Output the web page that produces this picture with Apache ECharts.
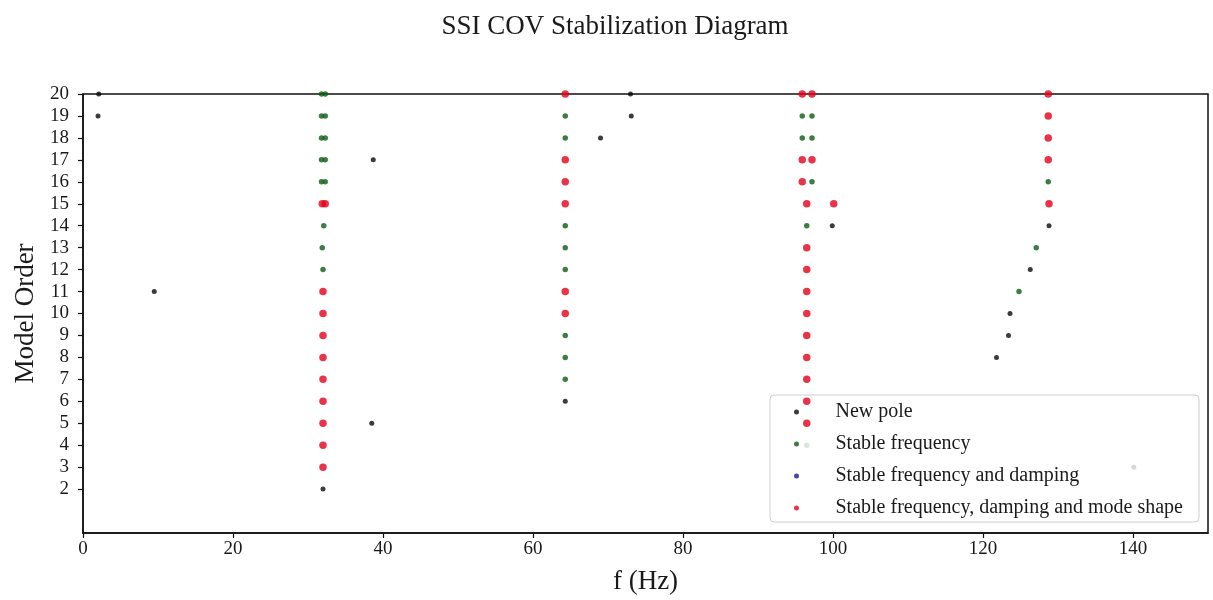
<!DOCTYPE html>
<html>
<head>
<meta charset="utf-8">
<script src="https://cdn.jsdelivr.net/npm/echarts@6/dist/echarts.min.js"></script>
<style>
  html, body { margin: 0; padding: 0; background: #ffffff; }
  #chart { width: 1213px; height: 600px; }
</style>
</head>
<body>
<div id="chart"></div>
<script>
// Stabilization diagram: poles as [frequency (Hz), model order]
const chartTitle = 'SSI COV Stabilization Diagram';
const seriesNames = [
  'New pole',
  'Stable frequency',
  'Stable frequency and damping',
  'Stable frequency, damping and mode shape'
];
const xTicks = [0, 20, 40, 60, 80, 100, 120, 140];
const yTicks = [2, 3, 4, 5, 6, 7, 8, 9, 10, 11, 12, 13, 14, 15, 16, 17, 18, 19, 20];

const newPole = [
  [2.1, 20], [2.0, 19], [9.5, 11], [32.0, 2], [38.7, 17], [38.5, 5],
  [64.3, 6], [69.0, 18], [73.1, 19], [73.0, 20], [99.9, 14],
  [128.8, 14], [126.3, 12], [123.6, 10], [123.4, 9], [121.8, 8], [140.1, 3]
];
const stableFrequency = [
  [31.8, 20], [32.3, 20], [31.8, 19], [32.3, 19], [31.8, 18], [32.3, 18],
  [31.8, 17], [32.3, 17], [31.8, 16], [32.3, 16], [32.1, 14], [31.9, 13], [32.0, 12],
  [64.3, 19], [64.3, 18], [64.3, 14], [64.3, 13], [64.3, 12], [64.3, 9], [64.3, 8], [64.3, 7],
  [95.9, 19], [97.2, 19], [95.9, 18], [97.2, 18], [97.2, 16], [96.5, 14], [96.5, 4],
  [128.7, 16], [127.1, 13], [124.8, 11]
];
const stableFreqDamping = [];
const stableAll = [
  [31.9, 15], [32.3, 15], [32.0, 11], [32.0, 10], [32.0, 9], [32.0, 8], [32.0, 7],
  [32.0, 6], [32.0, 5], [32.0, 4], [32.0, 3],
  [64.3, 20], [64.3, 17], [64.3, 16], [64.3, 15], [64.3, 11], [64.3, 10],
  [95.9, 20], [97.2, 20], [95.9, 17], [97.2, 17], [95.9, 16], [96.5, 15], [100.1, 15],
  [96.5, 13], [96.5, 12], [96.5, 11], [96.5, 10], [96.5, 9], [96.5, 8], [96.5, 7],
  [96.5, 6], [96.5, 5],
  [128.7, 20], [128.7, 19], [128.7, 18], [128.7, 17], [128.8, 15]
];

const serif = '"Liberation Serif", "Times New Roman", serif';
const ink = '#1a1a1a';
const frame = { show: true, lineStyle: { color: '#111', width: 1.5 } };

const chart = echarts.init(document.getElementById('chart'), null, { renderer: 'canvas' });

chart.setOption({
  animation: false,
  backgroundColor: '#ffffff',
  graphic: [{
    type: 'text',
    x: 615,
    y: 27,
    style: {
      text: chartTitle,
      align: 'center',
      verticalAlign: 'middle',
      fontFamily: serif,
      fontSize: 27,
      fill: ink
    }
  }],
  grid: {
    left: 83, right: 5, top: 94, bottom: 66, containLabel: false,
    show: true, borderColor: '#111', borderWidth: 1.5, backgroundColor: 'transparent'
  },
  legend: {
    data: seriesNames,
    orient: 'vertical',
    left: 770,
    top: 395,
    padding: [6, 16, 3, 24],
    itemGap: 10,
    itemWidth: 40,
    itemHeight: 5,
    icon: 'circle',
    backgroundColor: 'rgba(255,255,255,0.8)',
    borderColor: '#cfcfcf',
    borderWidth: 1,
    borderRadius: 4,
    formatter: '{t|{name}}',
    textStyle: {
      fontFamily: serif, fontSize: 20, color: ink, lineHeight: 22,
      rich: { t: { fontFamily: serif, fontSize: 20, color: ink, lineHeight: 22, padding: [0, 0, 0, 14] } }
    }
  },
  xAxis: {
    type: 'value', min: 0, max: 150, interval: 20,
    name: 'f (Hz)', nameLocation: 'middle', nameGap: 35,
    nameTextStyle: { fontFamily: serif, fontSize: 27, color: ink },
    axisLine: frame,
    axisTick: { show: true, length: 5, customValues: xTicks, lineStyle: { color: '#111', width: 1.2 } },
    axisLabel: { customValues: xTicks, margin: 7, fontFamily: serif, fontSize: 19, color: ink },
    splitLine: { show: false }
  },
  yAxis: {
    type: 'value', min: 0, max: 20, interval: 1,
    name: 'Model Order', nameLocation: 'middle', nameGap: 39, nameRotate: 90,
    nameTextStyle: { fontFamily: serif, fontSize: 27, color: ink },
    axisLine: frame,
    axisTick: { show: true, length: 5, customValues: yTicks, lineStyle: { color: '#111', width: 1.2 } },
    axisLabel: { customValues: yTicks, margin: 14, fontFamily: serif, fontSize: 19, color: ink },
    splitLine: { show: false }
  },
  series: [
    { name: seriesNames[0], type: 'scatter', data: newPole, symbol: 'circle', symbolSize: 5,
      itemStyle: { color: '#0a0a0a' }, z: 2 },
    { name: seriesNames[1], type: 'scatter', data: stableFrequency, symbol: 'circle', symbolSize: 5.5,
      itemStyle: { color: '#0b5e12' }, z: 3 },
    { name: seriesNames[2], type: 'scatter', data: stableFreqDamping, symbol: 'circle', symbolSize: 5.5,
      itemStyle: { color: '#16169a' }, z: 3 },
    { name: seriesNames[3], type: 'scatter', data: stableAll, symbol: 'circle', symbolSize: 7.5,
      itemStyle: { color: '#e3001c' }, z: 4 }
  ]
});
</script>
</body>
</html>
